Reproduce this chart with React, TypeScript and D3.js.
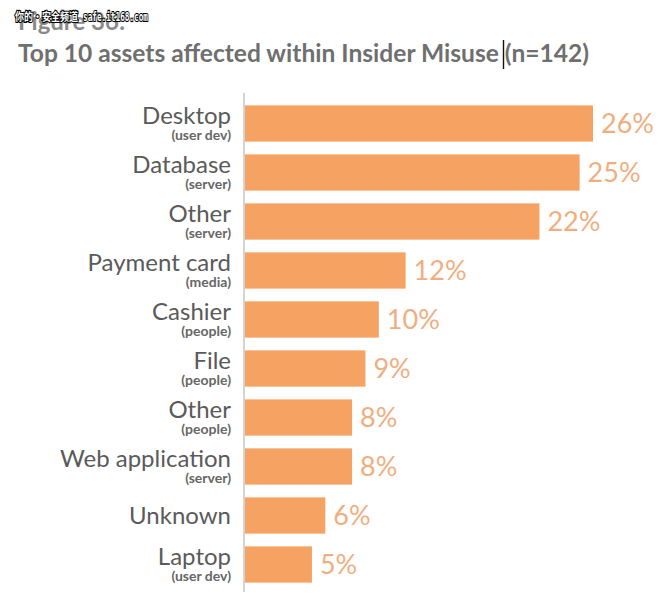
import React from "react";
import * as d3 from "d3";

const categories = ["Desktop", "Database", "Other", "Payment card", "Cashier", "File", "Other", "Web application", "Unknown", "Laptop"];
const subLabels = ["(user dev)", "(server)", "(server)", "(media)", "(people)", "(people)", "(people)", "(server)", "", "(user dev)"];
const values = [26, 25, 22, 12, 10, 9, 8, 8, 6, 5];
const valueLabels = ["26%", "25%", "22%", "12%", "10%", "9%", "8%", "8%", "6%", "5%"];

const W = 670;
const H = 607;
const BAR = "#F5A262";
const VAL = "#F0AE80";
const FONT = "Lato, 'Noto Sans', sans-serif";

export default function App() {
  const ids = d3.range(values.length).map(String);
  const x = d3.scaleLinear().domain([0, 26]).range([245, 593]);
  const y = d3.scaleBand().domain(ids).range([99, 589]).paddingInner(0.26).paddingOuter(0.13);
  const bw = y.bandwidth();

  return (
    <svg width={W} height={H} style={{ position: "absolute", left: 0, top: 0, background: "#fff" }} fontFamily={FONT}>
      <text x={18} y={30} fontSize={24} fontWeight={700} fill="#8a8a8a">Figure 36:</text>
      <g fontWeight={700} fill="#fff" stroke="#000" strokeWidth={2.2} style={{ paintOrder: "stroke" }}>
        <text x={15} y={21} fontSize={11} fontFamily="'Noto Sans CJK SC', sans-serif" textLength={63} lengthAdjust="spacingAndGlyphs">你的·安全频道</text>
        <text x={83} y={21} fontSize={12} fontFamily="'DejaVu Sans Mono', monospace" textLength={65} lengthAdjust="spacingAndGlyphs">safe.it168.com</text>
      </g>
      <text x={18} y={62} fontSize={24} fontWeight={700} fill="#6f6f6f" textLength={571} lengthAdjust="spacingAndGlyphs">Top 10 assets affected within Insider Misuse (n=142)</text>
      <line x1={503.5} x2={503.5} y1={40} y2={69} stroke="#111" strokeWidth={1.4} />
      <line x1={244} x2={244} y1={93} y2={592} stroke="#a8a8a8" strokeWidth={1} />
      {values.map((v, i) => {
        const top = y(String(i))!;
        const hasSub = subLabels[i] !== "";
        return (
          <g key={i}>
            <rect x={x(0)} y={top} width={x(v) - x(0)} height={bw} fill={BAR} />
            <text x={x(v) + 8} y={top + bw / 2 + 9} fontSize={27} fill={VAL}>{valueLabels[i]}</text>
            <text x={231} y={hasSub ? top + 18.5 : top + bw / 2 + 8} textAnchor="end" fontSize={24} fill="#5a5a5a">{categories[i]}</text>
            {hasSub && (
              <text x={231} y={top + 35} textAnchor="end" fontSize={14} fontWeight={700} fill="#666">{subLabels[i]}</text>
            )}
          </g>
        );
      })}
    </svg>
  );
}
